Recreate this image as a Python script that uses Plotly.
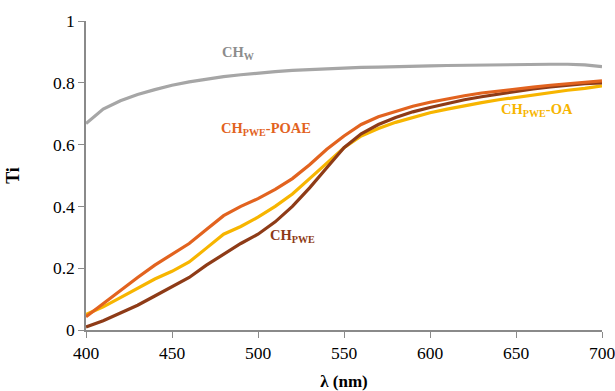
import plotly.graph_objects as go

wavelength = list(range(400, 701, 10))

ch_w = [0.668, 0.715, 0.742, 0.762, 0.778, 0.792, 0.803, 0.812, 0.820, 0.826, 0.832,
        0.836, 0.840, 0.843, 0.846, 0.848, 0.850, 0.851, 0.853, 0.855, 0.855,
        0.856, 0.857, 0.858, 0.859, 0.860, 0.860, 0.860, 0.860, 0.858, 0.852]

ch_pwe_poae = [0.043, 0.085, 0.130, 0.170, 0.210, 0.245, 0.280, 0.325, 0.370, 0.400, 0.425,
               0.455, 0.490, 0.535, 0.585, 0.628, 0.665, 0.690, 0.708, 0.724, 0.737,
               0.748, 0.758, 0.767, 0.774, 0.780, 0.786, 0.792, 0.797, 0.801, 0.806]

ch_pwe_oa = [0.050, 0.075, 0.105, 0.135, 0.165, 0.190, 0.220, 0.265, 0.310, 0.335, 0.365,
             0.400, 0.440, 0.490, 0.540, 0.590, 0.628, 0.652, 0.672, 0.688, 0.703,
             0.715, 0.726, 0.736, 0.745, 0.753, 0.761, 0.769, 0.776, 0.782, 0.790]

ch_pwe = [0.010, 0.030, 0.055, 0.080, 0.110, 0.140, 0.170, 0.210, 0.245, 0.280, 0.310,
          0.350, 0.400, 0.460, 0.525, 0.590, 0.635, 0.665, 0.688, 0.706, 0.720,
          0.733, 0.745, 0.755, 0.764, 0.772, 0.780, 0.787, 0.793, 0.797, 0.800]

x_ticks = [400, 450, 500, 550, 600, 650, 700]
y_ticks = [0, 0.2, 0.4, 0.6, 0.8, 1]
y_tick_labels = ["0", "0.2", "0.4", "0.6", "0.8", "1"]

series = [
    ("CH<sub>W</sub>", ch_w, "#A6A6A6"),
    ("CH<sub>PWE</sub>-OA", ch_pwe_oa, "#F7B500"),
    ("CH<sub>PWE</sub>", ch_pwe, "#8E3B17"),
    ("CH<sub>PWE</sub>-POAE", ch_pwe_poae, "#E2631F"),
]

labels = [
    ("CH<sub>W</sub>", 238, 53, "#8C8C8C"),
    ("CH<sub>PWE</sub>-POAE", 266, 129, "#E2631F"),
    ("CH<sub>PWE</sub>-OA", 537, 110, "#F7B500"),
    ("CH<sub>PWE</sub>", 292, 236, "#8E3B17"),
]

FONT = "Liberation Serif, Times New Roman, serif"

fig = go.Figure()
for name, vals, color in series:
    fig.add_trace(go.Scatter(x=wavelength, y=vals, mode="lines", name=name,
                             line=dict(color=color, width=3.2)))

for text, px, py, color in labels:
    fig.add_annotation(text="<b>" + text + "</b>", xref="paper", yref="paper",
                       x=(px - 86) / (602 - 86), y=(330 - py) / (330 - 21),
                       xanchor="center", yanchor="middle",
                       showarrow=False, font=dict(color=color, size=14.5, family=FONT))

fig.update_layout(
    width=615, height=391,
    margin=dict(l=86, r=13, t=21, b=61, autoexpand=False),
    paper_bgcolor="white", plot_bgcolor="white",
    showlegend=False,
    font=dict(family=FONT, size=17.5, color="black"),
)
fig.update_xaxes(range=[400, 700], tickvals=x_ticks, showgrid=False, zeroline=False,
                 showline=True, linecolor="#8A8A8A", linewidth=1.5,
                 ticks="outside", ticklen=6, tickcolor="#8A8A8A", automargin=False,
                 ticklabeloverflow="allow",
                 title=dict(text="<b>λ (nm)</b>", font=dict(size=17), standoff=22))
fig.update_yaxes(range=[0, 1], tickvals=y_ticks, ticktext=y_tick_labels,
                 showgrid=False, zeroline=False,
                 showline=True, linecolor="#8A8A8A", linewidth=1.5,
                 ticks="outside", ticklen=6, tickcolor="#8A8A8A", automargin=False,
                 ticklabeloverflow="allow",
                 title=dict(text="<b>Ti</b>", font=dict(size=18), standoff=29))

fig.write_html("out.html", config={"displayModeBar": False},
               post_script="document.body.style.margin='0';")
